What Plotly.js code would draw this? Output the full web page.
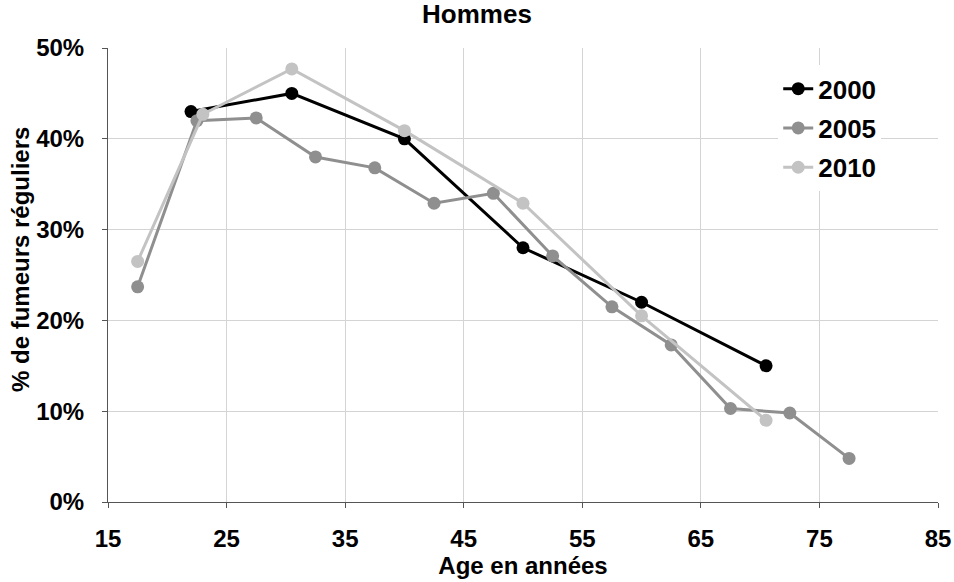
<!DOCTYPE html>
<html>
<head>
<meta charset="utf-8">
<script src="https://cdn.plot.ly/plotly-3.0.1.min.js"></script>
<style>
  html, body { margin: 0; padding: 0; background: #ffffff; }
  #chart { width: 954px; height: 582px; }
</style>
</head>
<body>
<div id="chart"></div>
<script>
// Share of regular smokers among men, by age, survey years 2000 / 2005 / 2010
const seriesNames = ['2000', '2005', '2010'];

const age2000 = [22, 30.5, 40, 50, 60, 70.5];
const pct2000 = [43, 45, 40, 28, 22, 15];

const age2005 = [17.5, 22.5, 27.5, 32.5, 37.5, 42.5, 47.5, 52.5, 57.5, 62.5, 67.5, 72.5, 77.5];
const pct2005 = [23.7, 42, 42.3, 38, 36.8, 32.9, 34, 27.1, 21.5, 17.3, 10.3, 9.8, 4.8];

const age2010 = [17.5, 23, 30.5, 40, 50, 60, 70.5];
const pct2010 = [26.5, 42.7, 47.7, 40.9, 32.9, 20.5, 9];

const xTicks = [15, 25, 35, 45, 55, 65, 75, 85];
const yTicks = [0, 10, 20, 30, 40, 50];

const colors = ['#000000', '#8f8f8f', '#c3c3c3'];
const ages = [age2000, age2005, age2010];
const pcts = [pct2000, pct2005, pct2010];

const font = 'Liberation Sans, Arial, sans-serif';

const traces = seriesNames.map((name, i) => ({
  type: 'scatter',
  mode: 'lines+markers',
  name: name,
  legendgroup: 'g' + i,
  x: ages[i],
  y: pcts[i],
  line: { color: colors[i], width: 3 },
  marker: { color: colors[i], size: 13 },
  hoverinfo: 'x+y+name'
}));

const layout = {
  width: 954,
  height: 582,
  paper_bgcolor: '#ffffff',
  plot_bgcolor: '#ffffff',
  margin: { l: 108, r: 16, t: 48, b: 80 },
  font: { family: font, color: '#000000', size: 24 },
  title: {
    text: '<b>Hommes</b>',
    font: { family: font, size: 26, color: '#000000' },
    x: 0.5, xref: 'container',
    y: 0.976, yref: 'container', yanchor: 'middle'
  },
  xaxis: {
    range: [15, 85],
    tickvals: xTicks,
    ticktext: xTicks.map(v => '<b>' + v + '</b>'),
    showgrid: true,
    gridcolor: '#d4d4d4',
    gridwidth: 1,
    zeroline: false,
    showline: true,
    linecolor: '#555555',
    linewidth: 1,
    ticks: 'outside',
    ticklen: 5,
    tickcolor: '#555555',
    ticklabelstandoff: 10,
    tickfont: { family: font, size: 24, color: '#000000' },
    title: {
      text: '<b>Age en années</b>',
      font: { family: font, size: 24, color: '#000000' },
      standoff: 2
    },
    fixedrange: true
  },
  yaxis: {
    range: [0, 50],
    tickvals: yTicks,
    ticktext: yTicks.map(v => '<b>' + v + '%</b>'),
    showgrid: true,
    gridcolor: '#d4d4d4',
    gridwidth: 1,
    zeroline: false,
    showline: true,
    linecolor: '#555555',
    linewidth: 1,
    ticks: 'outside',
    ticklen: 5,
    tickcolor: '#555555',
    ticklabelstandoff: 13,
    tickfont: { family: font, size: 24, color: '#000000' },
    fixedrange: true
  },
  // vertical axis title, placed slightly above the plot middle
  annotations: [{
    text: '<b>% de fumeurs réguliers</b>',
    xref: 'paper', yref: 'paper',
    x: -0.106, y: 0.533,
    xanchor: 'center', yanchor: 'middle',
    textangle: -90,
    showarrow: false,
    font: { family: font, size: 24, color: '#000000' }
  }],
  showlegend: true,
  legend: {
    x: 0.8075, xanchor: 'left',
    y: 0.962, yanchor: 'top',
    bgcolor: '#ffffff',
    borderwidth: 0,
    traceorder: 'grouped',
    tracegroupgap: 2.5,
    font: { family: font, size: 26, color: '#000000', weight: 'bold' },
    itemwidth: 30
  }
};

Plotly.newPlot('chart', traces, layout, { displayModeBar: false, staticPlot: true });
</script>
</body>
</html>
